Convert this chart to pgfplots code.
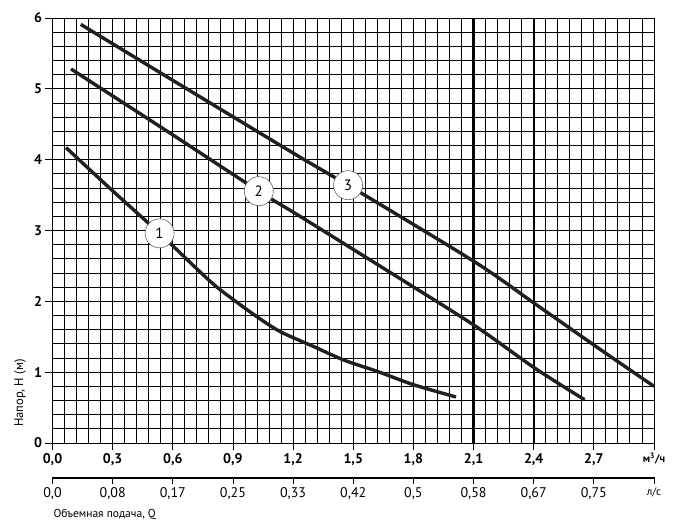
\documentclass[border=0pt]{standalone}
\usepackage{pgfplots}
\pgfplotsset{compat=1.18}
\usepackage{fontspec}
\setmainfont{PT Sans}
\definecolor{crv}{HTML}{231F20}
\begin{document}
\begin{tikzpicture}[x=1pt,y=1pt]
\useasboundingbox (-52.5pt,-85pt) rectangle (630.5pt,443pt);
\begin{axis}[
  name=main,
  at={(0pt,0pt)}, anchor=south west,
  scale only axis, width=601.5pt, height=425pt,
  xmin=0, xmax=3, ymin=0, ymax=6,
  clip=false,
  xtick={0,0.3,0.6,0.9,1.2,1.5,1.8,2.1,2.4,2.7,3.0},
  xticklabels={0{,}0,0{,}3,0{,}6,0{,}9,1{,}2,1{,}5,1{,}8,2{,}1,2{,}4,2{,}7,{\fontsize{11}{13}\selectfont м\textsuperscript{3}/ч}},
  ytick={0,1,2,3,4,5,6},
  yticklabels={0,1,2,3,4,5,6},
  minor x tick num=4, minor y tick num=4,
  grid=both,
  major grid style={line width=0.9pt,black},
  minor grid style={line width=0.9pt,black},
  axis line style={line width=0.9pt,black},
  tick style={line width=0.9pt,black},
  major tick length=7pt, minor tick length=0pt,
  tick align=outside,
  xtick pos=bottom, ytick pos=left,
  tick label style={font=\fontsize{14}{16}\selectfont\bfseries},
  extra x ticks={2.1,2.4},
  extra x tick labels={},
  extra x tick style={major grid style={line width=2.2pt,black}},
  ylabel={Напор, H (м)},
  ylabel style={at={(axis description cs:-0.054,0.1176)}, anchor=center, font=\fontsize{12.5}{14}\selectfont},
]
% curve 1
\addplot[crv, line width=3.4pt, smooth] coordinates {
  (0.0675,4.17)(0.30,3.56)(0.534,2.96)(0.7875,2.28)(0.904,2.02)(1.021,1.78)
  (1.1375,1.57)(1.304,1.36)(1.454,1.17)(1.621,1.01)(1.804,0.82)(2.0125,0.65)
};
% curve 2
\addplot[crv, line width=3.4pt, smooth] coordinates {
  (0.0925,5.28)(0.6,4.35)(1.029,3.555)(1.2375,3.195)(1.7,2.38)(2.104,1.66)
  (2.404,1.06)(2.654,0.61)
};
% curve 3
\addplot[crv, line width=3.4pt, smooth] coordinates {
  (0.141,5.91)(0.6,5.12)(1.2375,4.03)(1.474,3.64)(2.104,2.56)(2.404,1.97)
  (2.7375,1.31)(3.0,0.80)
};
\node[circle, draw=black!60, line width=0.6pt, fill=white, minimum size=29pt, inner sep=0pt,
  font=\fontsize{15}{17}\selectfont] at (axis cs:0.534,2.96) {1};
\node[circle, draw=black!60, line width=0.6pt, fill=white, minimum size=29pt, inner sep=0pt,
  font=\fontsize{15}{17}\selectfont] at (axis cs:1.029,3.555) {2};
\node[circle, draw=black!60, line width=0.6pt, fill=white, minimum size=29pt, inner sep=0pt,
  font=\fontsize{15}{17}\selectfont] at (axis cs:1.474,3.64) {3};
\node[anchor=west, font=\fontsize{11.5}{13}\selectfont] at (axis description cs:-0.004,-0.169) {Объемная подача, Q};
\end{axis}
% second scale, l/s: a flat box that reads as a single line
\begin{axis}[
  at={(0pt,-35pt)}, anchor=south west,
  scale only axis, width=601.5pt, height=0.5pt,
  xmin=0, xmax=3, ymin=0, ymax=1,
  ytick=\empty,
  axis line style={line width=0.9pt, black},
  xtick={0,0.3,0.6,0.9,1.2,1.5,1.8,2.1,2.4,2.7,3.0},
  xticklabels={0{,}0,0{,}08,0{,}17,0{,}25,0{,}33,0{,}42,0{,}5,0{,}58,0{,}67,0{,}75,{\fontsize{11}{13}\selectfont л/с}},
  xtick pos=bottom,
  tick align=outside,
  major tick length=6pt,
  tick style={line width=0.9pt,black},
  tick label style={font=\fontsize{14}{16}\selectfont},
]
\addplot[draw=none] coordinates {(0,0.5)};
\end{axis}
\end{tikzpicture}
\end{document}
